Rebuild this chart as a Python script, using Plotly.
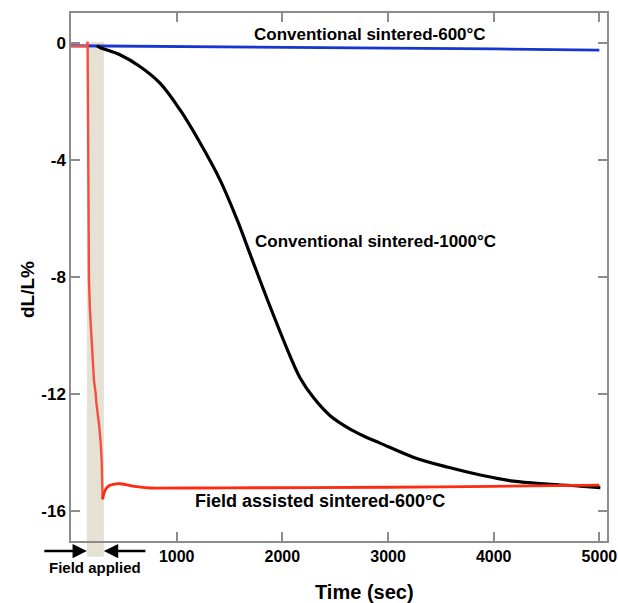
import plotly.graph_objects as go

# ---- data ----
blue_t = [0, 1000, 2000, 3000, 4000, 5000]
blue_v = [-0.08, -0.10, -0.13, -0.16, -0.19, -0.23]

black_t = [245, 274, 463, 652, 842, 1031, 1221, 1410, 1568, 1709, 1867, 2073, 2168, 2294,
           2455, 2641, 2783, 2925, 3238, 3560, 3873, 4186, 4507, 4819, 5009]
black_v = [-0.08, -0.14, -0.39, -0.79, -1.36, -2.27, -3.4, -4.67, -6.0, -7.35, -8.85,
           -10.7, -11.45, -12.12, -12.75, -13.2, -13.46, -13.68, -14.16, -14.5, -14.77,
           -14.98, -15.08, -15.15, -15.2]

red_t = [0, 150, 157, 163, 170, 179, 201, 217, 233, 240, 264, 280, 290, 299, 310, 330,
         360, 400, 463, 520, 600, 700, 800, 1500, 3000, 4000, 5000]
red_v = [-0.1, -0.1, 0.06, -3.65, -8.1, -9.12, -10.6, -11.52, -11.97, -12.3, -13.0, -13.6,
         -14.26, -15.6, -15.42, -15.25, -15.14, -15.09, -15.07, -15.1, -15.16, -15.2,
         -15.22, -15.21, -15.19, -15.16, -15.12]

band_t = [150, 311]          # "Field applied" window (sec)
x_ticks = [1000, 2000, 3000, 4000, 5000]
y_ticks = [0, -4, -8, -12, -16]
y_ticktext = ["0", "-4", "-8", "-12", "-16"]

FONT = "Arial, Liberation Sans, sans-serif"
AX = "#8c8c8c"
SPLIT = 13  # index of the minimum of the red curve (end of the steep drop)

fig = go.Figure()
fig.add_trace(go.Scatter(x=blue_t, y=blue_v, mode="lines",
                         line=dict(color="#1636cf", width=2.8), showlegend=False))
fig.add_trace(go.Scatter(x=black_t, y=black_v, mode="lines",
                         line=dict(color="#000000", width=3.2, shape="spline", smoothing=1.0),
                         showlegend=False))
fig.add_trace(go.Scatter(x=red_t[:SPLIT + 1], y=red_v[:SPLIT + 1], mode="lines",
                         line=dict(color="#f4503c", width=2.4), showlegend=False))
fig.add_trace(go.Scatter(x=red_t[SPLIT:], y=red_v[SPLIT:], mode="lines",
                         line=dict(color="#ff2a12", width=2.8, shape="spline", smoothing=0.4),
                         showlegend=False))

fig.add_shape(type="rect", xref="x", yref="paper", x0=band_t[0], x1=band_t[1],
              y0=-0.03, y1=0.945, fillcolor="#e5e1d5", line_width=0, layer="below")

labels = [
    (2830, 0.3, "<b>Conventional sintered-600°C</b>", 17),
    (2880, -6.78, "<b>Conventional sintered-1000°C</b>", 17),
    (2358, -15.65, "<b>Field assisted sintered-600°C</b>", 18),
]
for lx, ly, lt, fs in labels:
    fig.add_annotation(x=lx, y=ly, text=lt, showarrow=False, xanchor="center",
                       font=dict(family=FONT, size=fs, color="black"))

fig.add_annotation(xref="x", yref="paper", x=band_t[0], y=-0.019, text="", showarrow=True,
                   ax=-44, ay=0, arrowhead=2, arrowsize=1.1, arrowwidth=2.6, arrowcolor="black")
fig.add_annotation(xref="x", yref="paper", x=band_t[1], y=-0.019, text="", showarrow=True,
                   ax=43, ay=0, arrowhead=2, arrowsize=1.1, arrowwidth=2.6, arrowcolor="black")
fig.add_annotation(xref="paper", yref="paper", x=(95 - 71) / 536, y=-(567 - 541) / 528,
                   text="<b>Field applied</b>", showarrow=False,
                   xanchor="center", yanchor="middle",
                   font=dict(family=FONT, size=15, color="black"))

# axis titles
fig.add_annotation(xref="paper", yref="paper", x=(364 - 71) / 536, y=-(592 - 541) / 528,
                   text="<b>Time (sec)</b>", showarrow=False, xanchor="center",
                   yanchor="middle", font=dict(family=FONT, size=20, color="black"))
fig.add_annotation(xref="paper", yref="paper", x=(27 - 71) / 536, y=(541 - 290) / 528,
                   text="<b>dL/L%</b>", showarrow=False, textangle=-90, xanchor="center",
                   yanchor="middle", font=dict(family=FONT, size=19, color="black"))

fig.update_layout(
    width=618, height=603,
    margin=dict(l=71, r=11, t=13, b=62, autoexpand=False),
    plot_bgcolor="white", paper_bgcolor="white",
    font=dict(family=FONT, color="black"),
    xaxis=dict(range=[0, 5072], tickvals=x_ticks, ticks="inside", ticklen=9,
               tickcolor=AX, tickwidth=1.5, showline=True, linecolor=AX, linewidth=1.5,
               mirror="ticks", showgrid=False, zeroline=False, automargin=False,
               tickfont=dict(family=FONT, size=16, weight="bold")),
    yaxis=dict(range=[-17.03, 1.04], tickvals=y_ticks, ticktext=y_ticktext,
               ticks="inside", ticklen=9, tickcolor=AX, tickwidth=1.5,
               showline=True, linecolor=AX, linewidth=1.5, mirror="ticks",
               showgrid=False, zeroline=False, automargin=False,
               tickfont=dict(family=FONT, size=17, weight="bold")),
)

fig.write_html("out.html")
